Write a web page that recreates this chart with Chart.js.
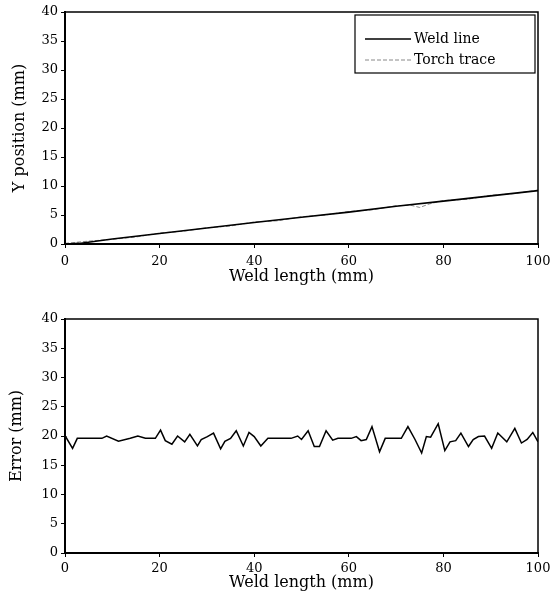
<!DOCTYPE html>
<html>
<head>
<meta charset="utf-8">
<script src="https://cdn.jsdelivr.net/npm/chart.js@4/dist/chart.umd.min.js"></script>
<style>
body { margin: 0; background: #fff; }
#top { position: absolute; left: 0; top: 0; }
#bottom { position: absolute; left: 0; top: 290px; }
</style>
</head>
<body>
<canvas id="top" width="550" height="290"></canvas>
<canvas id="bottom" width="550" height="311"></canvas>
<script>
// top chart: weld line vs torch trace
const weldX = [0, 3, 10, 20, 30, 40, 50, 60, 70, 80, 90, 100];
const weldY = [0, 0.1, 0.85, 1.8, 2.75, 3.7, 4.6, 5.5, 6.5, 7.4, 8.3, 9.2];
const torchX = [0, 5, 10, 15, 20, 25, 30, 35, 40, 45, 50, 55, 60, 65, 70, 73, 75, 77, 80, 85, 90, 95, 100];
const torchY = [0.1, 0.5, 0.8, 1.2, 1.9, 2.2, 2.8, 3.1, 3.8, 4.0, 4.7, 5.0, 5.6, 5.9, 6.6, 6.7, 6.3, 6.9, 7.5, 7.7, 8.4, 8.7, 9.3];

// bottom chart: error
const errX = [0, 0.2, 1.6, 2.6, 7.8, 8.8, 11.3, 13.8, 15.4, 17, 19.1, 20.2, 21.2, 22.6, 23.8, 25.3, 26.4, 28, 28.8, 30.1,
  31.4, 32.9, 33.8, 35, 36.2, 37.7, 38.9, 40, 41.4, 42.9, 47.8, 49.2, 50, 51.4, 52.7, 53.8, 55.2, 56.6, 57.7, 60.5,
  61.6, 62.6, 63.7, 64.9, 66.5, 67.7, 71.1, 72.5, 74, 75.4, 76.4, 77.3, 78.9, 80.3, 81.4, 82.6, 83.7, 85.3, 86.3, 87.4,
  88.7, 90.2, 91.5, 93.4, 95.1, 96.5, 97.7, 98.9, 100];
const errY = [20, 19.8, 17.9, 19.6, 19.6, 20.0, 19.1, 19.6, 20.0, 19.6, 19.6, 21.0, 19.2, 18.6, 20.0, 19.0, 20.3, 18.3, 19.4, 19.9,
  20.5, 17.8, 19.1, 19.6, 20.9, 18.3, 20.6, 19.9, 18.3, 19.6, 19.6, 20.0, 19.4, 20.9, 18.2, 18.2, 20.9, 19.3, 19.6, 19.6,
  19.9, 19.2, 19.4, 21.6, 17.3, 19.6, 19.6, 21.6, 19.4, 17.1, 19.9, 19.8, 22.1, 17.5, 19.0, 19.2, 20.5, 18.2, 19.4, 19.9,
  20.0, 17.9, 20.5, 19.0, 21.3, 18.8, 19.4, 20.6, 19.0];

const xTicks = [0, 20, 40, 60, 80, 100];
const yTicks = [0, 5, 10, 15, 20, 25, 30, 35, 40];

const serif = '"DejaVu Serif", "Liberation Serif", serif';

function pts(xs, ys) {
  return xs.map((x, i) => ({ x: x, y: ys[i] }));
}

// box round the plot area
const frame = {
  id: 'frame',
  afterDraw(chart) {
    const { ctx, chartArea: a } = chart;
    ctx.save();
    ctx.strokeStyle = '#000';
    ctx.lineWidth = 1.5;
    ctx.strokeRect(a.left, a.top, a.right - a.left, a.bottom - a.top);
    ctx.restore();
  }
};

// legend in a bordered box, top right
const legendBox = {
  id: 'legendBox',
  afterDraw(chart) {
    const { ctx, chartArea } = chart;
    const r = chartArea.right - 3, l = r - 180, t = chartArea.top + 3;
    ctx.save();
    ctx.strokeStyle = '#000';
    ctx.lineWidth = 1.2;
    ctx.strokeRect(l, t, r - l, 58);
    chart.data.datasets.forEach((ds, i) => {
      const y = t + 24 + i * 21;
      ctx.beginPath();
      ctx.strokeStyle = ds.borderColor;
      ctx.lineWidth = ds.borderWidth;
      ctx.setLineDash(ds.borderDash || []);
      ctx.moveTo(l + 10, y);
      ctx.lineTo(l + 56, y);
      ctx.stroke();
      ctx.setLineDash([]);
      ctx.fillStyle = '#000';
      ctx.font = '14px ' + serif;
      ctx.textBaseline = 'middle';
      ctx.fillText(ds.label, l + 59, y);
    });
    ctx.restore();
  }
};

function axes(yTitle, xHeight, xPad, yTitlePad) {
  const tickFont = { family: serif, size: 13 };
  const titleFont = { family: serif, size: 16 };
  return {
    x: {
      type: 'linear', min: 0, max: 100,
      afterBuildTicks: s => { s.ticks = xTicks.map(v => ({ value: v })); },
      afterFit: s => { s.height = xHeight; s.paddingRight = 0; },
      ticks: { color: '#000', font: tickFont, padding: xPad, maxRotation: 0 },
      grid: { display: true, drawOnChartArea: false, drawTicks: true, tickLength: 4, color: '#000' },
      border: { display: true, color: '#000', width: 2 },
      title: { display: true, text: 'Weld length (mm)', color: '#000', font: titleFont, padding: 0 }
    },
    y: {
      type: 'linear', min: 0, max: 40,
      afterBuildTicks: s => { s.ticks = yTicks.map(v => ({ value: v })); },
      afterFit: s => { s.width = 65; },
      ticks: { color: '#000', font: tickFont, padding: 3 },
      grid: { display: true, drawOnChartArea: false, drawTicks: true, tickLength: 4, color: '#000' },
      border: { display: true, color: '#000', width: 2 },
      title: { display: true, text: yTitle, color: '#000', font: titleFont, padding: { top: yTitlePad, bottom: 0 } }
    }
  };
}

new Chart(document.getElementById('top'), {
  type: 'line',
  data: {
    datasets: [
      { label: 'Weld line', data: pts(weldX, weldY), borderColor: '#000', borderWidth: 1.6, pointRadius: 0, tension: 0 },
      { label: 'Torch trace', data: pts(torchX, torchY), borderColor: '#888', borderWidth: 1, borderDash: [4, 2], pointRadius: 0, tension: 0 }
    ]
  },
  options: {
    responsive: false,
    animation: false,
    layout: { padding: { top: 12, right: 12, bottom: 4, left: 0 } },
    plugins: { legend: { display: false }, tooltip: { enabled: false } },
    scales: axes('Y position (mm)', 42, 6, 10)
  },
  plugins: [frame, legendBox]
});

new Chart(document.getElementById('bottom'), {
  type: 'line',
  data: {
    datasets: [
      { label: 'Error', data: pts(errX, errY), borderColor: '#000', borderWidth: 1.5, pointRadius: 0, tension: 0 }
    ]
  },
  options: {
    responsive: false,
    animation: false,
    layout: { padding: { top: 29, right: 12, bottom: 9, left: 0 } },
    plugins: { legend: { display: false }, tooltip: { enabled: false } },
    scales: axes('Error (mm)', 39, 4, 7)
  },
  plugins: [frame]
});
</script>
</body>
</html>
